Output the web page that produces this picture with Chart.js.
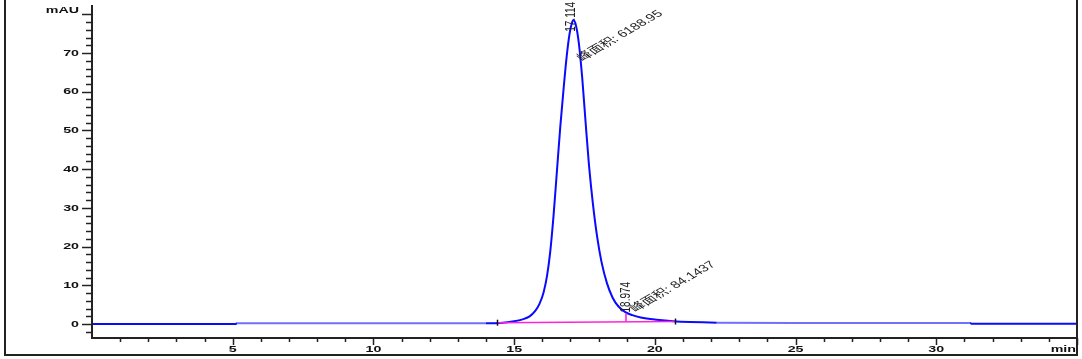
<!DOCTYPE html>
<html>
<head>
<meta charset="utf-8">
<script src="https://cdn.jsdelivr.net/npm/chart.js@4.4.1/dist/chart.umd.min.js"></script>
<style>
  html, body { margin: 0; padding: 0; background: #fff; }
  #wrap { width: 1082px; height: 359px; position: relative; }
</style>
</head>
<body>
<div id="wrap"><canvas id="chrom"></canvas></div>
<script>
// retention time (min) and detector signal (mAU)
const times  = [0, 5.1, 5.15, 8, 10, 12, 14, 14.5, 15.0, 15.3, 15.55, 15.75, 15.9, 16.05, 16.17, 16.28, 16.4, 16.52, 16.64, 16.76, 16.87, 16.97, 17.05, 17.11, 17.2, 17.3, 17.42, 17.54, 17.66, 17.8, 17.95, 18.1, 18.3, 18.5, 18.7, 18.95, 19.2, 19.5, 20.07, 20.66, 21.25, 22.2, 25, 28, 31.2, 31.25, 35];
const signal = [0, 0, 0.2, 0.2, 0.2, 0.2, 0.22, 0.3, 0.7, 1.2, 2.0, 3.4, 5.2, 8.3, 12.5, 18.5, 28, 39.5, 51, 61, 69.3, 75, 77.7, 78.5, 77.0, 72.5, 63.5, 52.0, 41.0, 31.0, 22.5, 16.2, 10.5, 6.8, 4.6, 3.1, 2.3, 1.7, 1.1, 0.7, 0.5, 0.36, 0.3, 0.3, 0.3, 0.1, 0.1];

// integration baseline and peak drop line (pink)
const baseTimes  = [14.4, 20.7];
const baseValues = [0.35, 0.65];
const dropTimes  = [18.974, 18.974];
const dropValues = [0.6, 2.8];

// peak table
const peakTimes = [17.114, 18.974];
const peakAreas = ['6188.95', '84.1437'];

// axis labels
const yTicks = [0, 10, 20, 30, 40, 50, 60, 70];
const xTicks = [5, 10, 15, 20, 25, 30];

// the printout is stretched sideways, so text is too
const SX = 1.5;

function putText(ctx, text, x, y, angle, align, base, font, color) {
    ctx.save();
    ctx.translate(x, y);
    ctx.scale(SX, 1);
    ctx.rotate(angle);
    ctx.font = font;
    ctx.fillStyle = color;
    ctx.textAlign = align;
    ctx.textBaseline = base;
    ctx.fillText(text, 0, 0);
    ctx.restore();
}

const toPoints = (xs, ys) => xs.map((t, i) => ({ x: t, y: ys[i] }));

// axes, ticks, frame and peak labels
const printout = {
    id: 'printout',
    afterDraw(chart) {
        const ctx = chart.ctx;
        const xs = chart.scales.x, ys = chart.scales.y, a = chart.chartArea;
        const tickFont = 'bold 9.5px "Liberation Sans", Arial, sans-serif';
        const noteFont = '10px "Liberation Sans", "Noto Sans CJK SC", sans-serif';

        ctx.save();
        ctx.strokeStyle = '#222';
        ctx.lineWidth = 2;
        // outer frame
        ctx.beginPath();
        ctx.moveTo(5, 0); ctx.lineTo(5, 355); ctx.lineTo(1077, 355); ctx.lineTo(1077, 0);
        ctx.stroke();
        // axis lines
        ctx.beginPath();
        ctx.moveTo(a.left, a.top); ctx.lineTo(a.left, a.bottom); ctx.lineTo(a.right, a.bottom);
        ctx.stroke();

        // y ticks every 2 mAU
        ctx.lineWidth = 1.5;
        for (let v = -2; v <= 80; v += 2) {
            const py = Math.round(ys.getPixelForValue(v)) + 0.5;
            const len = v % 10 === 0 ? 10 : 6;
            ctx.beginPath(); ctx.moveTo(a.left - len, py); ctx.lineTo(a.left, py); ctx.stroke();
        }
        // x ticks every minute
        for (let t = 1; t <= 35; t++) {
            const px = Math.round(xs.getPixelForValue(t)) + 0.5;
            const len = t % 5 === 0 ? 7 : 4;
            ctx.beginPath(); ctx.moveTo(px, a.bottom); ctx.lineTo(px, a.bottom + len); ctx.stroke();
        }

        yTicks.forEach(v => putText(ctx, String(v), a.left - 13, ys.getPixelForValue(v), 0, 'right', 'middle', tickFont, '#111'));
        putText(ctx, 'mAU', a.left - 13, ys.getPixelForValue(80) - 4, 0, 'right', 'middle', tickFont, '#111');
        xTicks.forEach(t => putText(ctx, String(t), xs.getPixelForValue(t), a.bottom + 11, 0, 'center', 'middle', tickFont, '#111'));
        putText(ctx, 'min', 1076, a.bottom + 11, 0, 'right', 'middle', tickFont, '#111');

        // black marks at baseline start / end
        ctx.strokeStyle = '#111';
        ctx.lineWidth = 1.5;
        baseTimes.forEach((t, i) => {
            const px = Math.round(xs.getPixelForValue(t)) + 0.5;
            const py = ys.getPixelForValue(baseValues[i]);
            ctx.beginPath(); ctx.moveTo(px, py - 3); ctx.lineTo(px, py + 3); ctx.stroke();
        });

        // retention time and area labels
        const rtBase = [75.5, 3.0];
        const rtShift = [-3, 0];
        const areaAt = [[17.5, 67.4], [19.38, 2.6]];
        peakTimes.forEach((t, i) => {
            putText(ctx, t.toFixed(3), xs.getPixelForValue(t) + rtShift[i], ys.getPixelForValue(rtBase[i]), -Math.PI / 2,
                'left', 'middle', noteFont, '#222');
            putText(ctx, '峰面积: ' + peakAreas[i], xs.getPixelForValue(areaAt[i][0]), ys.getPixelForValue(areaAt[i][1]),
                -41 * Math.PI / 180, 'left', 'bottom', noteFont, '#222');
        });
        ctx.restore();
    }
};

const flat = ctx => ctx.p0.parsed.x >= 5.15 && ctx.p1.parsed.x <= 14 || ctx.p0.parsed.x >= 22.2 && ctx.p1.parsed.x <= 31.2;

new Chart(document.getElementById('chrom'), {
    type: 'line',
    data: {
        datasets: [
            {
                data: toPoints(baseTimes, baseValues),
                borderColor: '#ff22dd', borderWidth: 1.6, pointRadius: 0, order: 0
            },
            {
                data: toPoints(dropTimes, dropValues),
                borderColor: '#ff22dd', borderWidth: 1.6, pointRadius: 0, order: 0
            },
            {
                data: toPoints(times, signal),
                borderColor: '#0a0aff', borderWidth: 2, pointRadius: 0,
                cubicInterpolationMode: 'monotone', order: 1,
                segment: { borderColor: c => flat(c) ? '#7070ff' : undefined }
            }
        ]
    },
    options: {
        responsive: true,
        maintainAspectRatio: false,
        animation: false,
        layout: { padding: { left: 92, right: 5, top: 5, bottom: 21 } },
        plugins: { legend: { display: false }, tooltip: { enabled: false } },
        scales: {
            x: { type: 'linear', min: 0, max: 35, display: false },
            y: { type: 'linear', min: -3.6, max: 82.4, display: false }
        }
    },
    plugins: [printout]
});
</script>
</body>
</html>
